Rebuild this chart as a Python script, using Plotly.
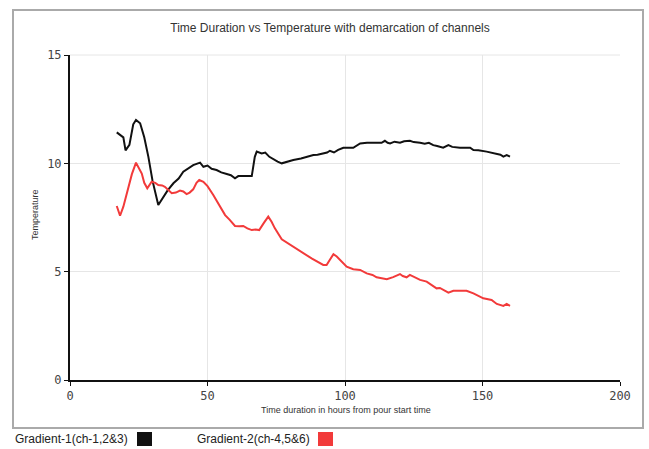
import plotly.graph_objects as go

# ---- data ----
black_x = [17, 18.5, 19.4, 20.2, 21.6, 23, 24, 25.5, 27, 28.5, 30, 32.1, 33.9, 35.5, 37.6, 39.5,
           41.2, 43, 44.8, 47.3, 48.5, 50, 51.5, 53.3, 55, 57, 58.5, 60, 61.2, 63, 66.1, 67.2,
           67.9, 69.7, 71, 72.5, 73.9, 75.5, 77, 79, 81.2, 84, 86, 88.5, 90, 92.1, 93.5, 94.5,
           96, 97.5, 99.4, 101, 103, 105.5, 108, 111, 113.3, 114.5, 115.5, 116.4, 118, 120,
           121.5, 123.6, 125, 127.3, 129, 130.5, 132.1, 133.5, 135.7, 137.6, 139, 141.8, 143.5,
           145.5, 146.7, 148.5, 151.5, 153, 155.2, 156.5, 157.6, 158.8, 160]
black_y = [11.43, 11.3, 11.2, 10.6, 10.85, 11.8, 12.0, 11.85, 11.2, 10.3, 9.2, 8.08, 8.46, 8.75,
           9.08, 9.3, 9.61, 9.75, 9.92, 10.03, 9.84, 9.9, 9.75, 9.69, 9.58, 9.51, 9.45, 9.31,
           9.41, 9.41, 9.41, 10.3, 10.54, 10.46, 10.5, 10.3, 10.18, 10.08, 10.0, 10.08, 10.15,
           10.22, 10.3, 10.38, 10.4, 10.46, 10.5, 10.58, 10.5, 10.62, 10.72, 10.72, 10.72, 10.92,
           10.95, 10.95, 10.95, 11.04, 10.95, 10.92, 11.0, 10.95, 11.02, 11.04, 10.98, 10.95,
           10.9, 10.95, 10.84, 10.8, 10.72, 10.84, 10.76, 10.72, 10.72, 10.72, 10.61, 10.6,
           10.54, 10.5, 10.46, 10.4, 10.31, 10.38, 10.31]

red_x = [17, 18.2, 19.4, 21, 22.5, 24, 25, 26.1, 27, 28.1, 29.7, 31, 32.1, 33.5, 34.5, 35.8, 37,
         38.5, 40, 41.2, 42.4, 43.5, 44.8, 46, 47, 48.5, 50, 52.1, 54, 56.4, 58, 60, 61.5, 63,
         64.5, 66.1, 67.5, 68.8, 70.5, 72.1, 73.3, 74.5, 77, 80, 84.8, 88, 92.1, 93.3, 94.5,
         95.8, 97, 98.2, 100, 100.6, 103, 105.5, 107.9, 110, 111.5, 113, 115.2, 117.5, 120, 121,
         122.4, 123.6, 125.5, 127.3, 129.7, 131.5, 133.3, 134.5, 135.7, 137.6, 139.4, 141.5,
         144.2, 146.7, 148.5, 150.3, 153.3, 155.2, 157.6, 158.8, 160]
red_y = [8.03, 7.58, 8.0, 8.8, 9.5, 10.03, 9.8, 9.53, 9.1, 8.85, 9.15, 9.1, 9.0, 8.98, 8.92, 8.75,
         8.62, 8.65, 8.74, 8.7, 8.58, 8.65, 8.8, 9.1, 9.23, 9.15, 8.95, 8.54, 8.1, 7.61, 7.4, 7.11,
         7.1, 7.11, 7.0, 6.92, 6.95, 6.92, 7.25, 7.54, 7.3, 7.0, 6.49, 6.25, 5.85, 5.6, 5.31, 5.31,
         5.55, 5.81, 5.7, 5.54, 5.31, 5.23, 5.11, 5.08, 4.92, 4.85, 4.74, 4.7, 4.65, 4.75, 4.89,
         4.8, 4.74, 4.85, 4.72, 4.62, 4.54, 4.4, 4.23, 4.25, 4.15, 4.03, 4.12, 4.12, 4.12, 4.0,
         3.9, 3.77, 3.69, 3.51, 3.42, 3.51, 3.42]

series_names = ["Gradient-1(ch-1,2&3)", "Gradient-2(ch-4,5&6)"]
x_ticks = [0, 50, 100, 150, 200]
y_ticks = [0, 5, 10, 15]

BLACK = "#111111"
RED = "#f23a3a"

fig = go.Figure()
fig.add_trace(go.Scatter(x=black_x, y=black_y, mode="lines", name=series_names[0],
                         line=dict(color=BLACK, width=2), showlegend=False))
fig.add_trace(go.Scatter(x=red_x, y=red_y, mode="lines", name=series_names[1],
                         line=dict(color=RED, width=2), showlegend=False))

tickfont = dict(family="DejaVu Sans Mono", size=12, color="#444")
fig.update_layout(
    width=649, height=449,
    margin=dict(l=70, r=29, t=55, b=69),
    paper_bgcolor="white", plot_bgcolor="white",
    title=dict(text="Time Duration vs Temperature with demarcation of channels",
               x=330 / 649, xanchor="center", y=1 - 28 / 449, yanchor="middle",
               font=dict(family="Liberation Sans", size=12, color="#333")),
    xaxis=dict(range=[0, 200], tickvals=x_ticks, showgrid=True, gridcolor="#e6e6e6",
               showline=True, linecolor=BLACK, linewidth=2, zeroline=False,
               ticks="outside", ticklen=4, tickcolor=BLACK, tickfont=tickfont),
    yaxis=dict(range=[0, 15], tickvals=y_ticks, showgrid=True, gridcolor="#e6e6e6",
               showline=True, linecolor=BLACK, linewidth=2, zeroline=False,
               ticks="outside", ticklen=4, tickcolor=BLACK, tickfont=tickfont),
    showlegend=False,
)

# top light frame of plot area
fig.add_shape(type="line", xref="paper", yref="paper", x0=0, x1=1, y0=1, y1=1,
              line=dict(color="#e6e6e6", width=1))

# outer border box
fig.add_shape(type="rect", xref="paper", yref="paper",
              x0=(13 - 70) / 550, x1=(643 - 70) / 550,
              y0=(380 - 428) / 325, y1=(380 - 10) / 325,
              line=dict(color="#aaaaaa", width=2), fillcolor="rgba(0,0,0,0)", layer="below")

# axis titles
fig.add_annotation(text="Time duration in hours from pour start time", xref="paper", yref="paper",
                   x=(346 - 70) / 550, y=(380 - 410) / 325, xanchor="center", yanchor="middle",
                   showarrow=False, font=dict(family="Liberation Sans", size=9, color="#333"))
fig.add_annotation(text="Temperature", xref="paper", yref="paper", textangle=-90,
                   x=(35 - 70) / 550, y=(380 - 215) / 325, xanchor="center", yanchor="middle",
                   showarrow=False, font=dict(family="Liberation Sans", size=9, color="#333"))

# custom legend (text then colour square)
legend_items = [(series_names[0], BLACK, 13, 137), (series_names[1], RED, 195, 318)]
for name, col, tx, sx in legend_items:
    fig.add_annotation(text=name, xref="paper", yref="paper", x=(tx - 70) / 550,
                       y=(380 - 439) / 325, xanchor="left", yanchor="middle", showarrow=False,
                       font=dict(family="Liberation Sans", size=12, color="#222"))
    fig.add_shape(type="rect", xref="paper", yref="paper",
                  x0=(sx - 70) / 550, x1=(sx + 15 - 70) / 550,
                  y0=(380 - 446) / 325, y1=(380 - 432) / 325,
                  line=dict(width=0), fillcolor=col)

fig.write_html("out.html")
